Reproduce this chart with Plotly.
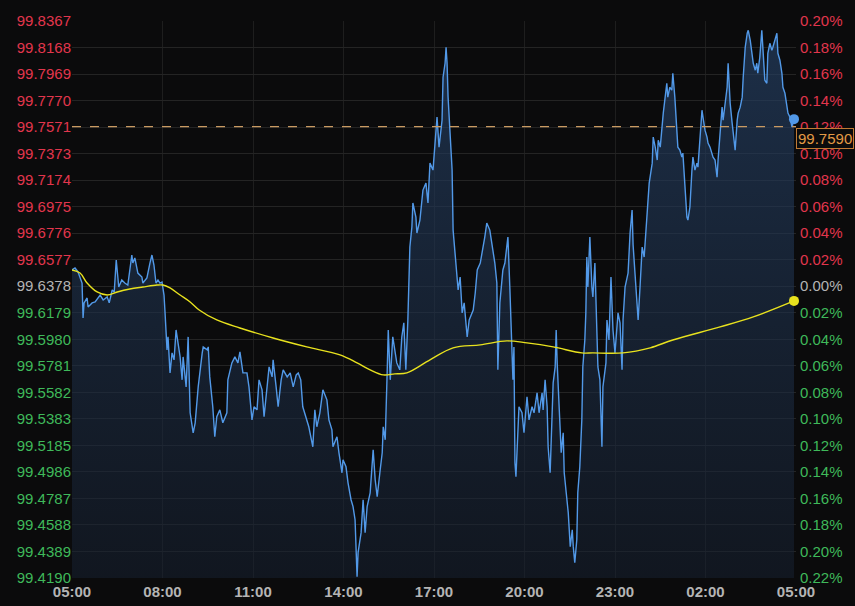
import pandas as pd
import plotly.graph_objects as go

# ---------------- data ----------------
session_start = "2024-01-01 05:00"
session_end = "2024-01-02 05:00"

# minutes after 05:00 for each price sample
minutes = [
    0, 6, 12, 20, 22, 24, 30, 32, 40, 46, 56, 62, 70, 74, 80, 84, 88, 90, 93, 99,
    105, 111, 119, 121, 125, 131, 139, 141, 149, 155, 159, 163, 167, 171, 175, 179, 183, 185, 187, 189,
    191, 195, 199, 203, 207, 209, 215, 219, 221, 227, 231, 235, 241, 245, 251,
    259, 261, 269, 271, 274, 280, 284, 288, 294, 300, 308, 310, 318, 324, 330, 334, 340, 348, 352, 358,
    362, 368, 372, 378, 382, 388, 392, 398, 400, 406, 410, 416, 420, 428, 434, 440, 446, 450, 455, 459,
    467, 471, 479, 483, 487, 493, 499, 507, 511, 517, 519, 527, 531, 537, 539, 545, 549, 555, 559, 563,
    567, 569, 575, 579, 583, 587, 593, 599, 603, 607, 613, 617, 619, 623, 627, 629,
    633, 638, 646, 652, 656, 660, 664, 668, 672, 676, 678, 684, 686, 692, 698, 704, 708, 712, 718, 722,
    726, 730, 736, 738, 742, 744, 746, 748, 752, 756, 758, 764, 768, 772, 776, 780, 786, 790, 798, 802,
    806, 812, 817, 821, 825, 831, 837, 841, 845, 847, 851, 857, 861, 865, 867, 871, 875, 877,
    879, 881, 883, 885, 889, 895, 899, 905, 909, 915, 919, 925, 929, 935, 937, 941, 945, 947, 951, 955,
    957, 961, 963, 965, 969, 973, 977, 979, 983, 987, 991, 995, 997, 1000, 1004, 1006, 1010, 1014, 1016, 1020,
    1022, 1024, 1026, 1030, 1034, 1036, 1040, 1044, 1046, 1050, 1054, 1056, 1062, 1064, 1068, 1072, 1076, 1080, 1084, 1086,
    1090, 1094, 1096, 1100, 1106, 1110, 1114, 1116, 1120, 1126, 1130, 1134, 1138, 1144, 1148,
    1154, 1156, 1160, 1164, 1166, 1170, 1176, 1180, 1183, 1185, 1189, 1193, 1195, 1199, 1203, 1205, 1209, 1213, 1215, 1219,
    1223, 1225, 1229, 1233, 1235, 1239, 1243, 1245, 1249, 1253, 1255, 1259, 1263, 1265, 1269, 1273, 1275, 1279, 1283, 1285,
    1289, 1293, 1295, 1299, 1303, 1305, 1309, 1313, 1315, 1319, 1323, 1325, 1329, 1333, 1335, 1339, 1343, 1345, 1349, 1353,
    1355, 1359, 1362, 1364, 1368, 1372, 1374, 1378, 1382, 1384, 1388, 1392, 1394, 1398, 1402, 1404, 1408, 1412, 1414, 1418,
    1422, 1424, 1428, 1432, 1434, 1436,
]

prices = [
    99.6500, 99.6515, 99.6485, 99.6402, 99.6140, 99.6253, 99.6290, 99.6223, 99.6253, 99.6260, 99.6312, 99.6275, 99.6298, 99.6253, 99.6350, 99.6335, 99.6575, 99.6477, 99.6372, 99.6425,
    99.6402, 99.6387, 99.6612, 99.6552, 99.6590, 99.6477, 99.6447, 99.6402, 99.6440, 99.6552, 99.6612, 99.6537, 99.6402, 99.6425, 99.6402, 99.6410, 99.6312, 99.6185, 99.6050, 99.5901,
    99.5998, 99.5728, 99.5878, 99.5826, 99.6050, 99.5998, 99.5848, 99.5676, 99.5848, 99.5623, 99.5998, 99.5429, 99.5279, 99.5354, 99.5623,
    99.5878, 99.5923, 99.5901, 99.5923, 99.5698, 99.5474, 99.5249, 99.5399, 99.5451, 99.5354, 99.5429, 99.5676, 99.5803, 99.5848, 99.5803, 99.5886, 99.5728, 99.5728, 99.5623, 99.5376,
    99.5474, 99.5451, 99.5676, 99.5601, 99.5399, 99.5653, 99.5773, 99.5698, 99.5826, 99.5623, 99.5474, 99.5676, 99.5751, 99.5698, 99.5728, 99.5623, 99.5713, 99.5728, 99.5676, 99.5474,
    99.5376, 99.5324, 99.5174, 99.5451, 99.5324, 99.5429, 99.5601, 99.5526, 99.5376, 99.5301, 99.5174, 99.5249, 99.5129, 99.4979, 99.5077, 99.5024, 99.4904, 99.4777, 99.4725, 99.4627,
    99.4200, 99.4380, 99.4530, 99.4777, 99.4530, 99.4725, 99.4829, 99.5152, 99.4927, 99.4800, 99.5002, 99.5129, 99.5324, 99.5226, 99.5751, 99.6050,
    99.5676, 99.5998, 99.5803, 99.5751, 99.5998, 99.6103, 99.5751, 99.6125, 99.6672, 99.6822, 99.7002, 99.6897, 99.6777, 99.6874, 99.7099, 99.7151, 99.7002, 99.7301, 99.7249, 99.7421,
    99.7646, 99.7421, 99.7623, 99.7945, 99.8050, 99.8170, 99.8050, 99.7796, 99.7496, 99.7249, 99.6799, 99.6500, 99.6350, 99.6447, 99.6178, 99.6253, 99.5998, 99.6125, 99.6200, 99.6327,
    99.6500, 99.6552, 99.6650, 99.6747, 99.6852, 99.6799, 99.6650, 99.6552, 99.6402, 99.5751, 99.6253, 99.6500, 99.6552, 99.6702, 99.6747, 99.6350, 99.5923, 99.5676,
    99.5923, 99.5054, 99.4949, 99.5174, 99.5474, 99.5429, 99.5279, 99.5549, 99.5376, 99.5474, 99.5429, 99.5578, 99.5429, 99.5578, 99.5451, 99.5676, 99.5474, 99.5174, 99.4979, 99.5429,
    99.5653, 99.5773, 99.6050, 99.5803, 99.5451, 99.5129, 99.5279, 99.4979, 99.4829, 99.4680, 99.4425, 99.4552, 99.4425, 99.4305, 99.4477, 99.4829, 99.5024, 99.5376, 99.5773, 99.5975,
    99.6178, 99.6597, 99.6372, 99.6747, 99.6372, 99.6298, 99.6552, 99.6125, 99.5773, 99.5676, 99.5174, 99.5623, 99.5803, 99.6125, 99.5975, 99.6447, 99.6050, 99.5878, 99.6125, 99.6178,
    99.6103, 99.5751, 99.6125, 99.6372, 99.6477, 99.6777, 99.6949, 99.6687, 99.6462, 99.6125, 99.6387, 99.6672, 99.6597, 99.6949, 99.7151,
    99.7301, 99.7496, 99.7421, 99.7324, 99.7473, 99.7421, 99.7676, 99.7825, 99.7900, 99.7796, 99.7870, 99.7848, 99.7975, 99.7796, 99.7571, 99.7421, 99.7399, 99.7346, 99.7376, 99.7174,
    99.6897, 99.6874, 99.6972, 99.7249, 99.7346, 99.7249, 99.7301, 99.7271, 99.7526, 99.7698, 99.7646, 99.7548, 99.7496, 99.7451, 99.7421, 99.7376, 99.7346, 99.7324, 99.7196, 99.7324,
    99.7526, 99.7721, 99.7623, 99.7773, 99.7870, 99.8050, 99.7751, 99.7601, 99.7526, 99.7399, 99.7623, 99.7676, 99.7721, 99.7796, 99.7945, 99.8170, 99.8275, 99.8297, 99.8222, 99.8095,
    99.8050, 99.7998, 99.8050, 99.7975, 99.8095, 99.8297, 99.8170, 99.7923, 99.7900, 99.8125, 99.8200, 99.8148, 99.8170, 99.8222, 99.8275, 99.8125, 99.8073, 99.7975, 99.7870, 99.7825,
    99.7721, 99.7676, 99.7646, 99.7571, 99.7623, 99.7631,
]

# moving average (yellow)
ma_minutes = [0, 16, 30, 50, 70, 90, 115, 141, 169, 181, 195, 215, 235, 253, 288, 334, 400, 467, 533, 567,
              593, 619, 642, 666, 712, 758, 812, 865, 905, 957, 1014, 1036, 1096, 1150, 1195, 1289, 1355, 1436]
ma_prices = [99.6500, 99.6477, 99.6402, 99.6335, 99.6312, 99.6335, 99.6357, 99.6372, 99.6387, 99.6387,
             99.6365, 99.6312, 99.6260, 99.6200, 99.6125, 99.6065, 99.5990, 99.5923, 99.5863, 99.5803,
             99.5751, 99.5713, 99.5721, 99.5728, 99.5826, 99.5916, 99.5938, 99.5968, 99.5953, 99.5923,
             99.5878, 99.5878, 99.5878, 99.5916, 99.5975, 99.6073, 99.6148, 99.6268]

prev_close = 99.6378
ref_line_price = 99.7575
last_price_label = "99.7590"

price_ticks = [99.8367, 99.8168, 99.7969, 99.7770, 99.7571, 99.7373, 99.7174, 99.6975, 99.6776, 99.6577,
               99.6378, 99.6179, 99.5980, 99.5781, 99.5582, 99.5383, 99.5185, 99.4986, 99.4787, 99.4588,
               99.4389, 99.4190]
pct_labels = ["0.20%", "0.18%", "0.16%", "0.14%", "0.12%", "0.10%", "0.08%", "0.06%", "0.04%", "0.02%",
              "0.00%", "0.02%", "0.04%", "0.06%", "0.08%", "0.10%", "0.12%", "0.14%", "0.16%", "0.18%",
              "0.20%", "0.22%"]
time_tick_hours = [0, 3, 6, 9, 12, 15, 18, 21, 24]

# ---------------- style ----------------
BG = "#0b0b0c"
GRID = "#242424"
RED = "#e2364d"
GREEN = "#3fb95a"
NEUTRAL = "#b4b4b4"
BLUE = "#5299e8"
YELLOW = "#e8e21e"
ORANGE = "#e39a45"
FONT = "Liberation Sans, Arial, sans-serif"

t0 = pd.Timestamp(session_start)
t_end = pd.Timestamp(session_end)
times = t0 + pd.to_timedelta(minutes, unit="min")
ma_times = t0 + pd.to_timedelta(ma_minutes, unit="min")
y_lo, y_hi = min(price_ticks), max(price_ticks)


def tick_color(p):
    if abs(p - prev_close) < 1e-6:
        return NEUTRAL
    return RED if p > prev_close else GREEN


left_text = [f'<span style="color:{tick_color(p)}">{p:.4f}</span>' for p in price_ticks]
right_text = [f'<span style="color:{tick_color(p)}">{lab}</span>' for p, lab in zip(price_ticks, pct_labels)]

tick_times = [t0 + pd.Timedelta(hours=h) for h in time_tick_hours]
tick_text = [f"<b>{t.strftime('%H:%M')}</b>" for t in tick_times]

fig = go.Figure()

# baseline for area fill
fig.add_trace(go.Scatter(x=times, y=[y_lo] * len(times), mode="lines",
                         line=dict(width=0, color="rgba(0,0,0,0)"), hoverinfo="skip", showlegend=False))
fig.add_trace(go.Scatter(
    x=times, y=prices, mode="lines", fill="tonexty",
    fillgradient=dict(type="vertical",
                      colorscale=[[0, "rgba(22,32,48,0.55)"], [1, "rgba(38,66,104,0.65)"]]),
    line=dict(color=BLUE, width=1.4), hoverinfo="skip", showlegend=False))

fig.add_trace(go.Scatter(x=ma_times, y=ma_prices, mode="lines", line=dict(color=YELLOW, width=1.4, shape="spline"),
                         hoverinfo="skip", showlegend=False))

# end markers
fig.add_trace(go.Scatter(x=[times[-1]], y=[prices[-1]], mode="markers",
                         marker=dict(color=BLUE, size=10), hoverinfo="skip", showlegend=False, cliponaxis=False))
fig.add_trace(go.Scatter(x=[ma_times[-1]], y=[ma_prices[-1]], mode="markers",
                         marker=dict(color=YELLOW, size=10), hoverinfo="skip", showlegend=False, cliponaxis=False))

# invisible trace to activate right axis
fig.add_trace(go.Scatter(x=[times[-1]], y=[prices[-1]], yaxis="y2", mode="markers",
                         marker=dict(opacity=0), hoverinfo="skip", showlegend=False))

fig.add_shape(type="line", xref="paper", x0=0, x1=1, yref="y", y0=ref_line_price, y1=ref_line_price,
              line=dict(color="#c99a62", width=1.2, dash="dash"))

fig.add_annotation(xref="paper", x=1, xanchor="left", yref="y", y=ref_line_price, yanchor="top",
                   text=last_price_label, showarrow=False,
                   font=dict(color=ORANGE, size=15, family=FONT),
                   bgcolor=BG, bordercolor="#c07a34", borderwidth=1, borderpad=1, yshift=-1)

axis_y = dict(range=[y_lo, y_hi], tickmode="array", tickvals=price_ticks,
              tickfont=dict(size=15, family=FONT), showline=False, zeroline=False, ticks="",
              fixedrange=True, automargin=False)

fig.update_layout(
    width=855, height=606,
    margin=dict(l=72, r=59, t=21, b=28, autoexpand=False),
    paper_bgcolor=BG, plot_bgcolor=BG,
    showlegend=False,
    xaxis=dict(range=[t0, t_end], tickmode="array", tickvals=tick_times, ticktext=tick_text,
               tickfont=dict(size=15, family=FONT, color=NEUTRAL), showgrid=True, gridcolor="#1e1e1e",
               zeroline=False, showline=False, ticks="", automargin=False, ticklabelstandoff=3),
    yaxis=dict(**axis_y, ticktext=left_text, showgrid=True, gridcolor=GRID, side="left"),
    yaxis2=dict(**axis_y, ticktext=right_text, showgrid=False, overlaying="y", side="right",
                ticklabelstandoff=3),
)

fig.write_html(
    "out.html",
    config={"displayModeBar": False, "staticPlot": True},
    post_script="document.body.style.margin='0';document.body.style.background='%s';"
                "document.body.style.overflow='hidden';" % BG,
)
